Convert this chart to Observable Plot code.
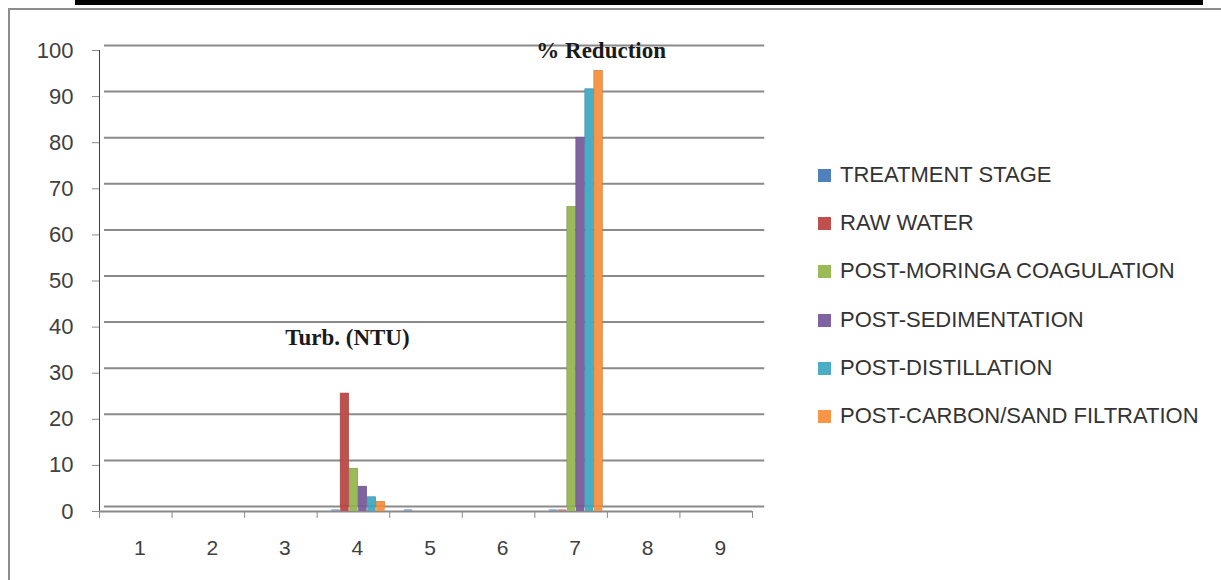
<!DOCTYPE html>
<html><head><meta charset="utf-8">
<script src="https://cdn.jsdelivr.net/npm/d3@7"></script>
<script src="https://cdn.jsdelivr.net/npm/@observablehq/plot@0.6"></script>
<style>
body{margin:0;background:#fff;width:1221px;height:580px;overflow:hidden;position:relative;font-family:"Liberation Sans",Arial,sans-serif;}
#topbar{position:absolute;left:75px;top:0;width:1128px;height:5px;background:#000;}
#frame{position:absolute;left:8px;top:8px;width:1300px;height:700px;border:2px solid #8c8c8c;}
#chart{position:absolute;left:0;top:0;}
#legend{position:absolute;left:818px;top:0;}
.row{position:absolute;left:0;white-space:nowrap;font-size:22px;line-height:22px;color:#333;display:flex;align-items:center;}
.sw{width:13px;height:13px;margin-right:9px;flex:none;}
#chart svg [aria-label="y-axis tick"], #chart svg [aria-label="x-axis tick"]{stroke:#8a8a8a;}
</style></head><body>
<div id="topbar"></div><div id="frame"></div><div id="chart"></div><div id="legend"></div>
<script>
const categories = [1, 2, 3, 4, 5, 6, 7, 8, 9];
const seriesNames = ["TREATMENT STAGE", "RAW WATER", "POST-MORINGA COAGULATION", "POST-SEDIMENTATION", "POST-DISTILLATION", "POST-CARBON/SAND FILTRATION"];
const seriesColors = ["#4F81BD", "#C0504D", "#9BBB59", "#8064A2", "#4BACC6", "#F79646"];
const treatmentStage    = [0, 0, 0, 0.4, 0.4, 0, 0.4, 0, 0];
const rawWater          = [0, 0, 0, 24.5, 0, 0, 0.4, 0, 0];
const postMoringa       = [0, 0, 0, 8.2, 0, 0, 65, 0, 0];
const postSedimentation = [0, 0, 0, 4.3, 0, 0, 80, 0, 0];
const postDistillation  = [0, 0, 0, 2.0, 0, 0, 90.5, 0, 0];
const postCarbonSand    = [0, 0, 0, 1.0, 0, 0, 94.5, 0, 0];
const yTicks = [0, 10, 20, 30, 40, 50, 60, 70, 80, 90, 100];
const annotationLabels = ["Turb. (NTU)", "% Reduction"];
const annotationCats = [4, 7];
const annotationValues = [37.7, 100];

const seriesValues = [treatmentStage, rawWater, postMoringa, postSedimentation, postDistillation, postCarbonSand];
const rows = [];
seriesValues.forEach((vals, s) => vals.forEach((v, c) => { if (v > 0) rows.push({s, cat: categories[c], value: v}); }));
const bigRows = rows.filter(d => d.value > 0.5);
const tinyRows = rows.filter(d => d.value <= 0.5);
const edgeColors = seriesColors.map(c => d3.color(c).darker(0.6).formatHex());

const groupStart = 0.2, barW = 0.124;
const boundaries = d3.range(categories.length + 1).map(i => categories[0] - 0.5 + i);
const depth = 5; // pseudo-3D back-wall offset in px

const barX = {
  x1: d => d.cat - 0.5 + groupStart + d.s * barW,
  x2: d => d.cat - 0.5 + groupStart + (d.s + 1) * barW
};

const chart = Plot.plot({
  width: 1221, height: 580,
  marginLeft: 99, marginRight: 469, marginTop: 50, marginBottom: 69,
  style: {background: "transparent", fontFamily: "Liberation Sans, Arial, sans-serif", fontSize: "22px", color: "#404040"},
  x: {domain: [0.5, 9.5], ticks: boundaries, tickFormat: () => "", tickSize: 7, line: true, label: null},
  y: {domain: [0, 100], ticks: yTicks, tickSize: 7, tickPadding: 19, line: true, label: null},
  marks: [
    Plot.ruleY(yTicks, {x1: 0.5, x2: 9.6, dx: depth, dy: -depth, stroke: "#8a8a8a", strokeWidth: 2}),
    Plot.ruleY([0], {x1: 0.5, x2: 9.5, stroke: "#8a8a8a", strokeWidth: 2}),
    Plot.rectY(tinyRows, {...barX, y: "value", fill: d => seriesColors[d.s], fillOpacity: 0.55, insetRight: 0.5}),
    // front part of each bar (floor edge up to the back-wall offset)
    Plot.rectY(bigRows, {...barX, y1: 0, y2: 0, fill: d => seriesColors[d.s], insetTop: -depth, insetRight: 0.5}),
    Plot.rectY(bigRows, {
      ...barX, y: "value",
      fill: d => seriesColors[d.s],
      stroke: d => edgeColors[d.s], strokeWidth: 0.6,
      dy: -depth, insetRight: 0.5
    }),
    Plot.text(categories, {x: d => d, y: 0, dy: 37, dx: 4, text: d => String(d), fontSize: 21, fill: "#404040"}),
    Plot.text(annotationLabels, {
      x: (d, i) => annotationCats[i], y: (d, i) => annotationValues[i],
      text: d => d,
      fontFamily: "Liberation Serif, Times New Roman, serif", fontWeight: "bold", fontSize: 23, fill: "#1a1a1a"
    })
  ]
});
document.getElementById("chart").append(chart);
// nudge annotation labels horizontally
const textGroups = chart.querySelectorAll('[aria-label="text"]');
const annG = textGroups[textGroups.length - 1];
const offs = [-6, 30];
annG.querySelectorAll("text").forEach((t, i) => { t.setAttribute("dx", offs[i]); });

const legend = document.getElementById("legend");
const rowY = [175, 223, 271, 320, 368, 416];
seriesNames.forEach((name, i) => {
  const r = document.createElement("div");
  r.className = "row";
  r.style.top = (rowY[i] - 11) + "px";
  r.innerHTML = `<span class="sw" style="background:${seriesColors[i]}"></span><span>${name}</span>`;
  legend.append(r);
});
</script>
</body></html>
